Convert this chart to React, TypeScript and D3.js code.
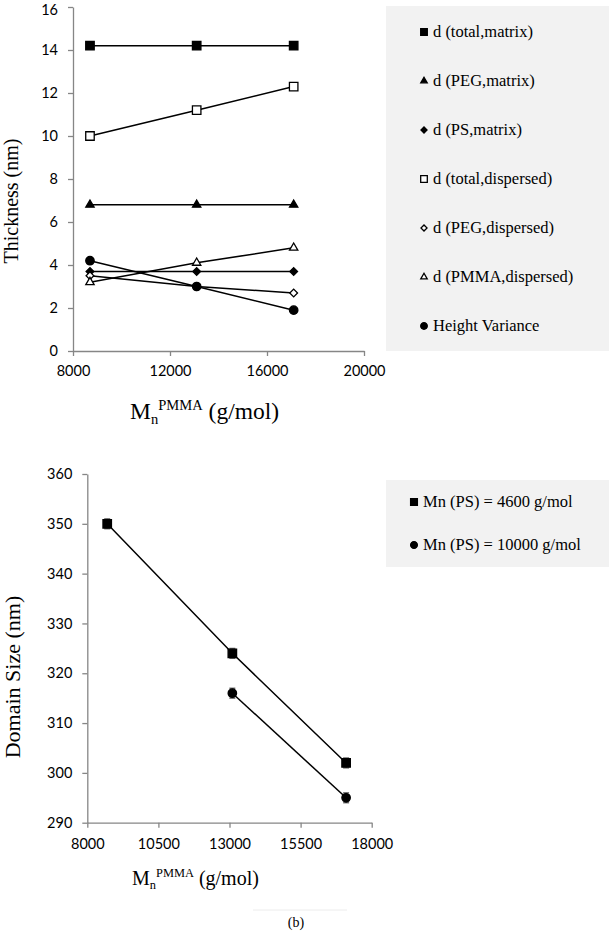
import React, { useEffect, useRef } from 'react';
import * as d3 from 'd3';

// molecular weights of PMMA (g/mol)
const mnPMMA = [8700, 13100, 17100];

// top chart: layer thickness (nm)
const totalMatrix = [14.2, 14.2, 14.2];
const pegMatrix = [6.8, 6.8, 6.8];
const psMatrix = [3.7, 3.7, 3.7];
const totalDispersed = [10.0, 11.2, 12.3];
const pegDispersed = [3.5, 3.0, 2.7];
const pmmaDispersed = [3.2, 4.1, 4.8];
const heightVariance = [4.2, 3.0, 1.9];

const topLabels = [
  'd (total,matrix)',
  'd (PEG,matrix)',
  'd (PS,matrix)',
  'd (total,dispersed)',
  'd (PEG,dispersed)',
  'd (PMMA,dispersed)',
  'Height Variance',
];
const topYTicks = [0, 2, 4, 6, 8, 10, 12, 14, 16];
const topXTicks = [8000, 12000, 16000, 20000];

// bottom chart: domain size (nm)
const mnPMMA4600 = [8700, 13100, 17100];
const domain4600 = [350, 324, 302];
const err4600 = [1, 1, 1];
const mnPMMA10000 = [13100, 17100];
const domain10000 = [316, 295];
const err10000 = [1, 1];
const bottomLabels = ['Mn (PS) = 4600 g/mol', 'Mn (PS) = 10000 g/mol'];
const bottomYTicks = [290, 300, 310, 320, 330, 340, 350, 360];
const bottomXTicks = [8000, 10500, 13000, 15500, 18000];

type Marker = 'square' | 'triangle' | 'diamond' | 'circle';

const axisGray = '#868686';
const tickFont = 'Lato, "Open Sans", sans-serif';
const serif = '"Liberation Serif", "Times New Roman", serif';

const markerPath = (m: Marker, scale = 1) => {
  switch (m) {
    case 'square':
      return d3.symbol(d3.symbolSquare, 72 * scale * scale)()!;
    case 'triangle':
      return d3.symbol(d3.symbolTriangle, 30 * scale * scale)()!;
    case 'diamond':
      return d3.symbol(d3.symbolSquare, 30 * scale * scale)()!;
    default:
      return d3.symbol(d3.symbolCircle, 56 * scale * scale)()!;
  }
};

const MarkerShape: React.FC<{ m: Marker; open: boolean; x: number; y: number; scale?: number }> = ({
  m,
  open,
  x,
  y,
  scale = 1,
}) => (
  <path
    d={markerPath(m, scale)}
    transform={`translate(${x},${y})${m === 'diamond' ? ' rotate(45)' : ''}`}
    fill={open ? '#fff' : '#000'}
    stroke="#000"
    strokeWidth={1.3}
  />
);

const topSeries = [
  { values: totalMatrix, marker: 'square' as Marker, open: false },
  { values: pegMatrix, marker: 'triangle' as Marker, open: false },
  { values: psMatrix, marker: 'diamond' as Marker, open: false },
  { values: totalDispersed, marker: 'square' as Marker, open: true },
  { values: pegDispersed, marker: 'diamond' as Marker, open: true },
  { values: pmmaDispersed, marker: 'triangle' as Marker, open: true },
  { values: heightVariance, marker: 'circle' as Marker, open: false },
];

const bottomSeries = [
  { xs: mnPMMA4600, values: domain4600, err: err4600, marker: 'square' as Marker },
  { xs: mnPMMA10000, values: domain10000, err: err10000, marker: 'circle' as Marker },
];

// top chart scales
const xTop = d3.scaleLinear().domain([8000, 20000]).range([73, 364]);
const yTop = d3.scaleLinear().domain([0, 16]).range([351, 7]);
// bottom chart scales
const xBot = d3.scaleLinear().domain([8000, 18000]).range([87.3, 371.7]);
const yBot = d3.scaleLinear().domain([290, 360]).range([822.7, 474]);

const styleAxis = (g: d3.Selection<SVGGElement, unknown, null, undefined>) => {
  g.select('.domain').attr('stroke', axisGray).attr('stroke-width', 1.3);
  g.selectAll('.tick line').attr('stroke', axisGray).attr('stroke-width', 1.3);
  g.selectAll('.tick text')
    .attr('fill', '#000')
    .style('font-family', tickFont)
    .style('font-size', '14.5px');
  g.attr('font-family', null).attr('font-size', null);
};

const Title: React.FC<{ x: number; y: number; size: number }> = ({ x, y, size }) => (
  <text x={x} y={y} fontFamily={serif} fontSize={size} fill="#000">
    <tspan>M</tspan>
    <tspan dy={size * 0.22} fontSize={size * 0.62}>
      n
    </tspan>
    <tspan dy={-size * 0.62} fontSize={size * 0.62}>
      PMMA
    </tspan>
    <tspan dy={size * 0.4}> (g/mol)</tspan>
  </text>
);

export default function App() {
  const topXRef = useRef<SVGGElement>(null);
  const topYRef = useRef<SVGGElement>(null);
  const botXRef = useRef<SVGGElement>(null);
  const botYRef = useRef<SVGGElement>(null);

  useEffect(() => {
    const tx = d3.select(topXRef.current!);
    tx.call(d3.axisBottom(xTop).tickValues(topXTicks).tickSize(5).tickSizeOuter(0).tickPadding(10).tickFormat(d3.format('d')));
    styleAxis(tx);
    const ty = d3.select(topYRef.current!);
    ty.call(d3.axisLeft(yTop).tickValues(topYTicks).tickSize(5).tickSizeOuter(0).tickPadding(10).tickFormat(d3.format('d')));
    styleAxis(ty);
    // keep the top label ("16") inside the picture
    ty.selectAll<SVGTextElement, number>('.tick text').filter((d) => d === 16).attr('dy', '0.5em');
    const bx = d3.select(botXRef.current!);
    bx.call(d3.axisBottom(xBot).tickValues(bottomXTicks).tickSize(5).tickSizeOuter(0).tickPadding(11).tickFormat(d3.format('d')));
    styleAxis(bx);
    const by = d3.select(botYRef.current!);
    by.call(d3.axisLeft(yBot).tickValues(bottomYTicks).tickSize(5).tickSizeOuter(0).tickPadding(10).tickFormat(d3.format('d')));
    styleAxis(by);
  }, []);

  const lineTop = d3
    .line<number>()
    .x((_, i) => xTop(mnPMMA[i]))
    .y((d) => yTop(d));

  return (
    <svg
      width={610}
      height={932}
      style={{ position: 'absolute', left: 0, top: 0, background: '#fff' }}
    >
      {/* ---------- top chart ---------- */}
      <g ref={topXRef} transform={`translate(0,${yTop(0)})`} />
      <g ref={topYRef} transform={`translate(${xTop(8000)},0)`} />

      {topSeries.map((s, i) => (
        <path key={`tl${i}`} d={lineTop(s.values)!} fill="none" stroke="#000" strokeWidth={1.5} />
      ))}
      {topSeries.map((s, i) =>
        s.values.map((v, j) => (
          <MarkerShape key={`tm${i}-${j}`} m={s.marker} open={s.open} x={xTop(mnPMMA[j])} y={yTop(v)} />
        ))
      )}

      <text
        transform={`translate(11,201) rotate(-90)`}
        textAnchor="middle"
        dy="0.35em"
        fontFamily={serif}
        fontSize={20}
      >
        Thickness (nm)
      </text>
      <Title x={130} y={419} size={23.5} />

      <rect x={386} y={6} width={223} height={345} fill="#f2f2f2" />
      {topSeries.map((s, i) => (
        <g key={`lg${i}`} transform={`translate(0,${32 + i * 49})`}>
          <MarkerShape m={s.marker} open={s.open} x={424} y={0} scale={0.78} />
          <text x={433} y={0} dy="0.33em" fontFamily={serif} fontSize={16.5}>
            {topLabels[i]}
          </text>
        </g>
      ))}

      {/* ---------- bottom chart ---------- */}
      <g ref={botXRef} transform={`translate(0,${yBot(290)})`} />
      <g ref={botYRef} transform={`translate(${xBot(8000)},0)`} />

      {bottomSeries.map((s, i) => {
        const line = d3
          .line<number>()
          .x((_, j) => xBot(s.xs[j]))
          .y((d) => yBot(d));
        return <path key={`bl${i}`} d={line(s.values)!} fill="none" stroke="#000" strokeWidth={1.5} />;
      })}
      {bottomSeries.map((s, i) =>
        s.values.map((v, j) => {
          const x = xBot(s.xs[j]);
          const y0 = yBot(v - s.err[j]);
          const y1 = yBot(v + s.err[j]);
          return (
            <g key={`be${i}-${j}`} stroke="#555" strokeWidth={1.2}>
              <line x1={x} x2={x} y1={y0} y2={y1} />
              <line x1={x - 3} x2={x + 3} y1={y0} y2={y0} />
              <line x1={x - 3} x2={x + 3} y1={y1} y2={y1} />
            </g>
          );
        })
      )}
      {bottomSeries.map((s, i) =>
        s.values.map((v, j) => (
          <MarkerShape key={`bm${i}-${j}`} m={s.marker} open={false} x={xBot(s.xs[j])} y={yBot(v)} />
        ))
      )}

      <text
        transform={`translate(12,677) rotate(-90)`}
        textAnchor="middle"
        dy="0.35em"
        fontFamily={serif}
        fontSize={22}
      >
        Domain Size (nm)
      </text>
      <Title x={132} y={885} size={20} />

      <rect x={386} y={480} width={223} height={87} fill="#f2f2f2" />
      {bottomSeries.map((s, i) => (
        <g key={`blg${i}`} transform={`translate(0,${502 + i * 43})`}>
          <MarkerShape m={s.marker} open={false} x={414} y={0} scale={0.8} />
          <text x={423} y={0} dy="0.33em" fontFamily={serif} fontSize={16.5}>
            {bottomLabels[i]}
          </text>
        </g>
      ))}

      <line x1={253} x2={347} y1={910} y2={910} stroke="#ececec" strokeWidth={1} />
      <text x={296} y={927} textAnchor="middle" fontFamily={serif} fontSize={14}>
        (b)
      </text>
    </svg>
  );
}
